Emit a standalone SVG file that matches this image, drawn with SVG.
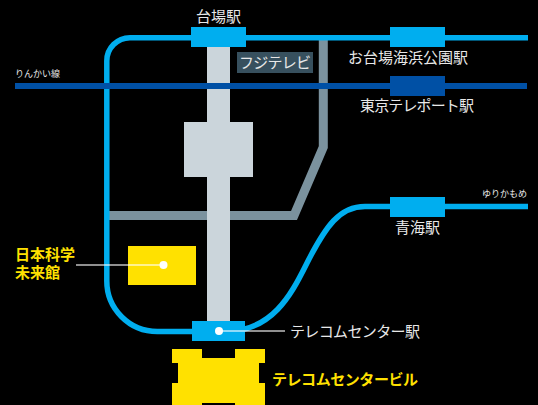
<svg xmlns="http://www.w3.org/2000/svg" width="538" height="405" viewBox="0 0 538 405">
<style>
text{font-family:"Noto Sans CJK JP","Noto Sans",sans-serif;font-size:15px;fill:#e8e8e8}
.sm{font-size:9px}
.y{fill:#ffe100;font-weight:700}
.st{fill:#00aeef}
.ln{fill:none;stroke:#00aeef;stroke-width:5.500}
.lead{fill:none;stroke:#fff;stroke-opacity:.75;stroke-width:1.3}
.dot{fill:#fff}
</style>
<rect width="538" height="405" fill="#000"/>
<g id="connectors">
<path d="M109 215.500H294L323.300 147V40" fill="none" stroke="#7b929e" stroke-width="9"/>
<path class="ln" d="M528 37.700H130A23.200 23.200 0 0 0 106.800 61V281A50.500 50.500 0 0 0 157.300 331.500H225C272 331.500 291 295 306 265C326 225 340 206.500 365 206.500H528"/>
<path d="M15 86H527" fill="none" stroke="#0050a5" stroke-width="6"/>
</g>
<g id="tower"><rect x="207" y="47" width="23" height="274" fill="#cbd5db"/><rect x="184" y="122" width="69" height="55" fill="#cbd5db"/></g>
<path d="M207 86H230" stroke="#0050a5" stroke-width="6"/>
<g id="fuji-tv"><rect x="237" y="52" width="76" height="21" fill="#37505e"/><text x="239" y="68" textLength="72">フジテレビ</text></g>
<g id="daiba"><rect class="st" x="191" y="27" width="55" height="20"/><text x="218.500" y="22" text-anchor="middle">台場駅</text></g>
<g id="odaiba-kaihin"><rect class="st" x="390" y="27" width="55" height="20"/><text x="348" y="63" textLength="120">お台場海浜公園駅</text></g>
<g id="tokyo-teleport"><rect x="390" y="76" width="55" height="20" fill="#0050a5"/><text x="360" y="111" textLength="114">東京テレポート駅</text></g>
<g id="aomi"><rect class="st" x="390" y="197" width="55" height="20"/><text x="417.500" y="233" text-anchor="middle">青海駅</text></g>
<g id="rinkai-label"><text class="sm" x="15" y="77">りんかい線</text></g>
<g id="yurikamome-label"><text class="sm" x="482" y="197">ゆりかもめ</text></g>
<g id="museum"><rect x="128" y="246" width="68" height="39" fill="#ffe100"/>
<text class="y"><tspan x="15" y="260">日本科学</tspan><tspan x="15" y="277.500">未来館</tspan></text>
<path class="lead" d="M76 265H163"/><circle class="dot" cx="163.500" cy="265" r="4"/></g>
<g id="telecom-station"><rect class="st" x="192" y="321" width="53" height="20"/>
<text x="290" y="337" textLength="130">テレコムセンター駅</text>
<path class="lead" d="M219 331H285"/><circle class="dot" cx="219" cy="331" r="4"/></g>
<g id="telecom-building"><path d="M172 349H202V358H235V349H265V363H259V383H265V405H235V403H202V405H172V383H178V363H172Z" fill="#ffe100"/>
<text class="y" x="272" y="385" textLength="146">テレコムセンタービル</text></g>
</svg>
